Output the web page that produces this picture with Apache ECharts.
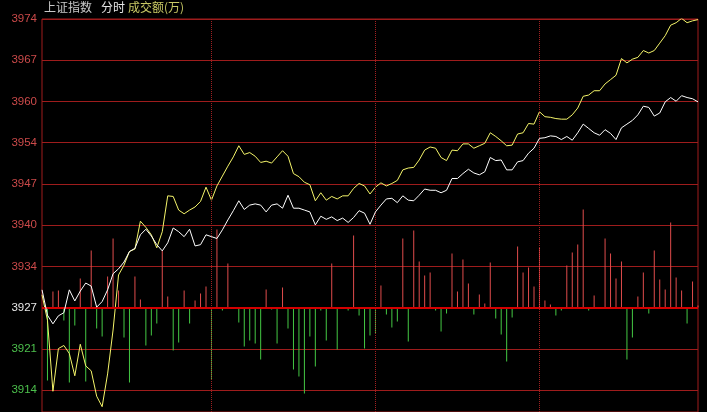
<!DOCTYPE html>
<html>
<head>
<meta charset="utf-8">
<script src="https://cdn.jsdelivr.net/npm/echarts@6/dist/echarts.min.js"></script>
<style>
html,body{margin:0;padding:0;background:#000;}
#c{width:707px;height:412px;}
</style>
</head>
<body>
<div id="c"></div>
<script>
// Tick labels (bottom to top)
const yLabels = ['3914','3921','3927','3934','3940','3947','3954','3960','3967','3974'];

// Index line (white)
const whiteLine = [
3930.2,3926.1,3924.7,3926.0,3926.5,3930.2,3928.4,3930.0,3931.3,3930.8,
3927.4,3928.3,3930.2,3932.8,3933.6,3934.7,3936.4,3936.9,3939.1,3940.0,
3938.9,3937.5,3936.5,3937.8,3940.2,3939.6,3938.8,3940.0,3937.3,3937.5,
3939.1,3938.8,3938.5,3939.9,3941.5,3943.0,3944.6,3943.2,3943.9,3944.1,
3943.9,3942.8,3943.9,3944.1,3943.4,3945.5,3943.4,3943.4,3943.1,3942.8,
3940.7,3942.1,3941.6,3942.0,3941.4,3941.8,3941.1,3941.9,3943.0,3942.6,
3940.8,3942.8,3943.9,3944.9,3945.0,3944.3,3945.4,3944.7,3944.6,3945.5,
3946.5,3946.3,3946.3,3945.9,3946.3,3948.2,3948.2,3949.0,3949.7,3949.1,
3948.8,3949.3,3951.6,3951.1,3951.2,3949.6,3949.6,3950.9,3951.1,3952.3,
3953.1,3954.7,3954.8,3955.1,3955.0,3954.5,3955.0,3954.4,3955.6,3957.0,
3956.3,3955.6,3955.2,3956.1,3955.5,3954.5,3956.4,3957.0,3957.6,3958.5,
3959.9,3959.7,3958.3,3958.8,3960.6,3961.3,3960.7,3961.6,3961.3,3961.1,
3960.6
];

// Second line (yellow)
const yellowLine = [
3929.4,3925.3,3913.8,3920.7,3921.2,3919.9,3916.3,3921.4,3917.9,3917.1,
3913.0,3911.3,3916.6,3923.7,3932.6,3934.2,3936.4,3936.8,3941.3,3940.3,
3939.1,3937.0,3939.6,3945.4,3945.3,3943.1,3942.5,3943.1,3943.6,3944.5,
3946.8,3944.7,3947.0,3948.6,3950.2,3951.7,3953.5,3952.1,3952.4,3951.8,
3950.8,3951.0,3950.7,3951.7,3952.7,3951.8,3949.0,3948.5,3947.6,3947.2,
3944.6,3945.9,3944.7,3945.3,3944.9,3945.4,3945.4,3946.6,3947.4,3947.0,
3945.7,3946.8,3947.5,3947.0,3947.4,3947.9,3949.6,3949.9,3950.0,3951.2,
3952.8,3953.3,3953.1,3951.6,3951.1,3952.8,3952.7,3953.8,3953.8,3953.1,
3953.5,3953.9,3955.6,3955.0,3954.3,3953.5,3953.6,3955.4,3955.6,3957.1,
3957.0,3959.0,3958.2,3958.1,3957.9,3957.8,3957.8,3958.5,3959.6,3961.5,
3961.7,3962.4,3962.4,3963.5,3964.2,3964.9,3967.6,3966.9,3967.5,3967.8,
3968.9,3968.5,3968.9,3970.1,3971.3,3973.0,3973.4,3974.1,3973.4,3973.7,
3973.9
];

// Volume bars (positive = up/red, negative = down/green)
const volume = [
0,-73,16,17,-13,-75,-18,29,-74,57,
-21,-29,31,69,17,-30,-75,31,8,-38,
-28,-16,57,11,-43,-35,17,-16,7,14,
21,-72,78,-3,44,0,-15,-39,-33,-36,
-52,18,-2,-36,20,-21,-62,-69,-86,-29,
-59,-3,-33,44,-42,0,-3,72,-8,-41,
-28,-26,22,-7,-20,-14,69,-34,77,46,
32,35,-3,-24,-6,54,16,48,24,-7,
13,4,45,-11,-27,-54,-10,61,35,40,
21,60,7,3,-8,-3,42,55,63,98,
-3,12,0,69,54,29,46,-52,-30,11,
35,-6,57,28,18,85,30,17,-16,26,
2
];

// Time categories: 2-minute steps
const categories = [];
(function(){
  for (let i = 0; i < whiteLine.length; i++) {
    let m = i * 2;
    let t = m <= 120 ? 9*60+30+m : 13*60 + (m-120);
    let h = Math.floor(t/60), mm = t % 60;
    categories.push(h + ':' + (mm < 10 ? '0' : '') + mm);
  }
})();

const base = 3927.3333;     // previous close (centre line)
const step = 20/3;          // tick interval
const tickMin = 3914, tickMax = 3974;
const gridTop = 19, tickBottom = 390, plotBottom = 412;
const pxPerUnit = (tickBottom - gridTop) / (tickMax - tickMin);
const plotMin = tickMax - (plotBottom - gridTop) / pxPerUnit;
const zeroFromTop = (tickMax - base) * pxPerUnit;
const volMax = zeroFromTop, volMin = zeroFromTop - (plotBottom - gridTop);

const chart = echarts.init(document.getElementById('c'), null, {renderer:'canvas'});
chart.setOption({
  backgroundColor:'#000000',
  animation:false,
  graphic:[
    {type:'text', left:44, top:1, style:{text:'上证指数', fill:'#c8c8c8', font:'12px "Noto Sans CJK SC"'}},
    {type:'text', left:101, top:1, style:{text:'分时', fill:'#e6e6e6', font:'12px "Noto Sans CJK SC"'}},
    {type:'text', left:128, top:1, style:{text:'成交额(万)', fill:'#c8c864', font:'12px "Noto Sans CJK SC"'}}
  ],
  grid:[
    {left:42, top:gridTop, right:9, bottom:0, show:true, borderColor:'#a01c1c', borderWidth:1, backgroundColor:'transparent'},
    {left:42, top:gridTop, right:9, bottom:plotBottom - tickBottom, show:false}
  ],
  xAxis:[
    {
      gridIndex:0, type:'category', data:categories, boundaryGap:false,
      axisLine:{show:false}, axisTick:{show:false}, axisLabel:{show:false}, splitLine:{show:false}
    },
    {
      gridIndex:1, type:'category', data:categories, boundaryGap:false, show:false
    }
  ],
  yAxis:[
    {
      gridIndex:0, type:'value', min:plotMin, max:tickMax,
      axisLine:{show:false}, axisTick:{show:false}, axisLabel:{show:false}, splitLine:{show:false}
    },
    {
      gridIndex:0, type:'value', min:volMin, max:volMax, show:false, splitLine:{show:false}
    },
    {
      gridIndex:1, type:'value', min:tickMin, max:tickMax, interval:step,
      axisLine:{show:false}, axisTick:{show:false},
      splitLine:{show:true, lineStyle:{color:'#9e1c1c', width:1}},
      axisLabel:{
        margin:5,
        formatter:function(v){
          const k = Math.round((v - tickMin)/step);
          if (k < 0 || k >= yLabels.length) return '';
          const tag = k < 2 ? 'g' : (k === 2 ? 'w' : 'r');
          return '{' + tag + '|' + yLabels[k] + '}';
        },
        rich:{
          r:{color:'#cc4a4a', fontFamily:'Liberation Sans', fontSize:11.5},
          w:{color:'#e8e8e8', fontFamily:'Liberation Sans', fontSize:11.5},
          g:{color:'#4cc04c', fontFamily:'Liberation Sans', fontSize:11.5}
        }
      }
    }
  ],
  series:[
    {
      type:'bar', xAxisIndex:0, yAxisIndex:1, barWidth:1, silent:true,
      data:volume.map(v => ({value:v, itemStyle:{color: v >= 0 ? '#e04c4c' : '#44c844'}})),
      z:2
    },
    {
      type:'line', xAxisIndex:0, yAxisIndex:0, data:yellowLine, showSymbol:false, silent:true,
      lineStyle:{color:'#f4f46a', width:1}, z:4
    },
    {
      type:'line', xAxisIndex:0, yAxisIndex:0, data:whiteLine, showSymbol:false, silent:true,
      lineStyle:{color:'#ffffff', width:1}, z:5,
      markLine:{
        silent:true, symbol:['none','none'], label:{show:false}, animation:false,
        data:[
          {yAxis:base, lineStyle:{color:'#d40000', width:2, type:'solid'}},
          {xAxis:31, lineStyle:{color:'#a02020', width:1, type:'dotted'}},
          {xAxis:61, lineStyle:{color:'#a02020', width:1, type:'dotted'}},
          {xAxis:91, lineStyle:{color:'#a02020', width:1, type:'dotted'}}
        ]
      }
    }
  ]
});
</script>
</body>
</html>
